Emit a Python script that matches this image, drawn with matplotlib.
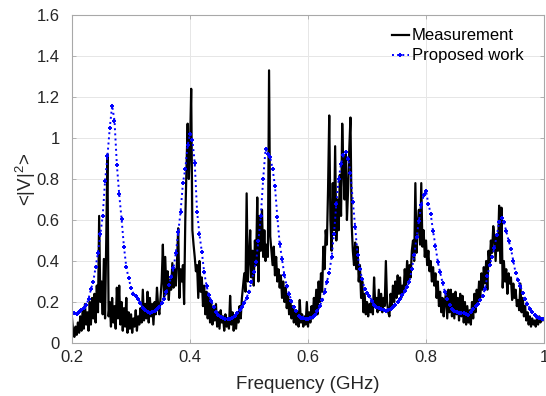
import numpy as np
import matplotlib
matplotlib.use("Agg")
import matplotlib.pyplot as plt
from matplotlib.ticker import FuncFormatter

plt.rcParams['font.family'] = ['Liberation Sans', 'DejaVu Sans']
plt.rcParams['mathtext.fontset'] = 'custom'
plt.rcParams['mathtext.rm'] = 'Liberation Sans'

# measurement, sampled every 0.002 GHz from 0.2 to 1.0
measurement = [
    0.12, 0.05, 0.03, 0.08, 0.04, 0.10, 0.05, 0.13, 0.06, 0.16,
    0.07, 0.19, 0.09, 0.15, 0.06, 0.20, 0.09, 0.22, 0.12, 0.24,
    0.10, 0.28, 0.15, 0.62,
    0.20, 0.30, 0.14, 0.41, 0.12, 0.50, 0.92, 0.13, 0.20, 0.08,
    0.22, 0.10, 0.18, 0.07, 0.27, 0.12, 0.28, 0.09, 0.20, 0.06,
    0.17, 0.08, 0.22, 0.05, 0.15, 0.07, 0.14, 0.05, 0.12, 0.08,
    0.16, 0.06, 0.13, 0.09, 0.17, 0.10, 0.26, 0.11, 0.19, 0.12,
    0.25, 0.10, 0.22, 0.13, 0.19, 0.09, 0.20, 0.14, 0.27, 0.18,
    0.14, 0.22, 0.30, 0.48, 0.22, 0.42, 0.24, 0.35, 0.21, 0.31,
    0.26, 0.39, 0.27, 0.36, 0.28, 0.40, 0.56, 0.22, 0.36, 0.30,
    0.38, 0.19, 0.60, 0.85, 1.07, 0.80, 0.95, 1.24, 0.55, 0.48,
    0.42, 0.35, 0.38, 0.22, 0.40, 0.25, 0.32, 0.18, 0.28, 0.14,
    0.25, 0.12, 0.22, 0.10, 0.20, 0.09, 0.17, 0.11, 0.19, 0.08,
    0.15, 0.07, 0.16, 0.10, 0.13, 0.06, 0.14, 0.08, 0.12, 0.07,
    0.23, 0.09, 0.15, 0.06, 0.12, 0.07, 0.14, 0.10, 0.18, 0.12,
    0.22, 0.28, 0.34, 0.25, 0.73, 0.30, 0.40, 0.55, 0.32, 0.45,
    0.28, 0.50, 0.38, 0.71, 0.30,
    0.62, 0.45, 0.65, 0.42, 0.55, 0.40, 0.48, 0.42, 1.33, 0.52,
    0.45, 0.38, 0.47, 0.33, 0.42, 0.30, 0.36, 0.27, 0.33, 0.22,
    0.30, 0.20, 0.27, 0.17, 0.24, 0.14, 0.21, 0.12, 0.18, 0.10,
    0.16, 0.09, 0.15, 0.08, 0.21, 0.10, 0.14, 0.08, 0.13, 0.09,
    0.20, 0.08, 0.15, 0.10, 0.18, 0.12, 0.22, 0.15, 0.26, 0.14,
    0.30, 0.20, 0.34, 0.25, 0.47, 0.36, 0.55, 0.48, 0.75, 1.11,
    0.60, 0.45, 0.78, 0.55, 0.96, 0.50, 0.70, 0.55, 0.82, 0.62,
    1.07, 0.85, 0.70, 0.92, 0.60, 0.75, 0.95, 1.10, 0.58,
    0.45, 0.38, 0.49, 0.36, 0.47, 0.30, 0.38, 0.22, 0.30, 0.15,
    0.24, 0.14, 0.20, 0.13, 0.19, 0.15, 0.21, 0.14, 0.32, 0.18,
    0.22, 0.15, 0.26, 0.16, 0.24, 0.15, 0.22, 0.18, 0.40, 0.20,
    0.15, 0.13, 0.24, 0.18, 0.28, 0.20, 0.30, 0.22, 0.33, 0.24,
    0.32, 0.22, 0.28, 0.25, 0.36, 0.28, 0.40, 0.30, 0.38, 0.32,
    0.45, 0.50, 0.40, 0.78, 0.44, 0.58, 0.65, 0.48, 0.78, 0.47,
    0.55, 0.42, 0.50, 0.38, 0.45, 0.35, 0.40, 0.30, 0.37, 0.28,
    0.34, 0.22, 0.30, 0.18, 0.25, 0.15, 0.22, 0.13, 0.20,
    0.25, 0.12, 0.26, 0.15, 0.26, 0.13, 0.24, 0.12, 0.25, 0.14,
    0.22, 0.11, 0.24, 0.13, 0.23, 0.10, 0.20, 0.09, 0.18, 0.10,
    0.16, 0.09, 0.20, 0.12, 0.24, 0.15, 0.26, 0.20, 0.30, 0.22,
    0.34, 0.26, 0.37, 0.29, 0.40, 0.26, 0.45, 0.38, 0.50, 0.44,
    0.57, 0.52, 0.40, 0.53, 0.45, 0.67, 0.39, 0.66, 0.27, 0.40,
    0.30, 0.36, 0.24, 0.34, 0.29, 0.32, 0.21, 0.29, 0.22, 0.26,
    0.18, 0.21, 0.16, 0.29, 0.15, 0.22, 0.13, 0.18, 0.11, 0.15,
    0.09, 0.13, 0.08, 0.12, 0.09, 0.11, 0.08, 0.12, 0.09, 0.13,
    0.10, 0.12, 0.11, 0.12,
]

# proposed work, sampled every 0.004 GHz from 0.2 to 1.0
proposed = [
    0.146, 0.145, 0.143, 0.150, 0.160, 0.170, 0.183, 0.215, 0.262, 0.300,
    0.370, 0.440, 0.530, 0.620, 0.790, 0.910, 1.050, 1.158, 1.085, 0.870,
    0.725, 0.605, 0.470, 0.370, 0.315, 0.270, 0.240, 0.228, 0.216, 0.195,
    0.170, 0.160, 0.152, 0.148, 0.150, 0.156, 0.165, 0.178, 0.195, 0.215,
    0.250, 0.285, 0.320, 0.365, 0.440, 0.540, 0.640, 0.780, 0.850, 0.965,
    1.020, 0.990, 0.880, 0.640,
    0.530, 0.445, 0.345, 0.280, 0.232, 0.206, 0.176, 0.150, 0.135, 0.126,
    0.120, 0.117, 0.116, 0.117, 0.120, 0.130, 0.145, 0.160, 0.176, 0.195,
    0.222, 0.250, 0.300, 0.347, 0.395,
    0.500, 0.620, 0.800, 0.945, 0.920, 0.905, 0.850, 0.765, 0.615, 0.485,
    0.410, 0.330, 0.278, 0.240, 0.205, 0.175, 0.155, 0.132, 0.124, 0.120,
    0.118, 0.118, 0.120, 0.128, 0.137, 0.155, 0.180, 0.210, 0.250, 0.300,
    0.340, 0.420, 0.530, 0.680, 0.800, 0.875, 0.915, 0.930, 0.900, 0.830,
    0.690, 0.565, 0.430, 0.360, 0.310, 0.265, 0.245, 0.230, 0.207, 0.186,
    0.176, 0.170, 0.167, 0.160, 0.157, 0.162, 0.168, 0.175, 0.184, 0.198,
    0.213, 0.232, 0.252, 0.275, 0.300, 0.360, 0.430, 0.515, 0.595, 0.675,
    0.720, 0.742, 0.680, 0.630, 0.545, 0.475, 0.395, 0.345, 0.295, 0.250,
    0.215,
    0.185, 0.168, 0.158, 0.152, 0.148, 0.146, 0.144, 0.140, 0.138, 0.150,
    0.168, 0.180, 0.192, 0.208, 0.228, 0.265, 0.325, 0.380, 0.420, 0.465,
    0.525, 0.590, 0.612, 0.590, 0.545, 0.500, 0.460, 0.400, 0.340, 0.305,
    0.278, 0.245, 0.215, 0.190, 0.168, 0.150, 0.138, 0.128, 0.122, 0.119,
    0.118,
]

f_meas = np.linspace(0.2, 1.0, len(measurement))
f_prop = np.linspace(0.2, 1.0, len(proposed))

fig = plt.figure(figsize=(5.46, 3.96), dpi=100)
ax = fig.add_axes([0.1319, 0.1338, 0.8644, 0.8283])

ax.plot(f_meas, measurement, color='black', lw=1.6, label='Measurement')
ax.plot(f_prop, proposed, color='blue', lw=1.4, ls=':', marker='+',
        ms=3.5, mew=1.4, label='Proposed work')

ax.set_xlim(0.2, 1.0)
ax.set_ylim(0, 1.6)
ax.set_xticks([0.2, 0.4, 0.6, 0.8, 1.0])
ax.set_yticks(np.arange(0, 1.61, 0.2))
ax.xaxis.set_major_formatter(FuncFormatter(lambda v, p: '%g' % round(v, 2)))
ax.yaxis.set_major_formatter(FuncFormatter(lambda v, p: '%g' % round(v, 2)))

ax.grid(True, color='#e6e6e6', lw=0.7)
ax.set_axisbelow(True)
for s in ax.spines.values():
    s.set_color('#a8a8a8')
    s.set_linewidth(0.8)
ax.tick_params(direction='in', top=True, right=True, length=3, width=0.6,
               color='#a8a8a8', labelsize=12, labelcolor='#262626')
ax.tick_params(axis='x', pad=5)
ax.tick_params(axis='y', pad=9)

ax.set_xlabel('Frequency (GHz)', fontsize=13.5, color='#262626', labelpad=8)
ax.set_ylabel(r'<|V|$^2$>', fontsize=13.5, color='#262626', labelpad=-1)

leg = ax.legend(loc='upper right', frameon=False, fontsize=12,
                handlelength=1.0, handletextpad=0.2, borderaxespad=0.4,
                labelspacing=0.3, bbox_to_anchor=(0.985, 1.0))

fig.savefig('out.png', dpi=100)
